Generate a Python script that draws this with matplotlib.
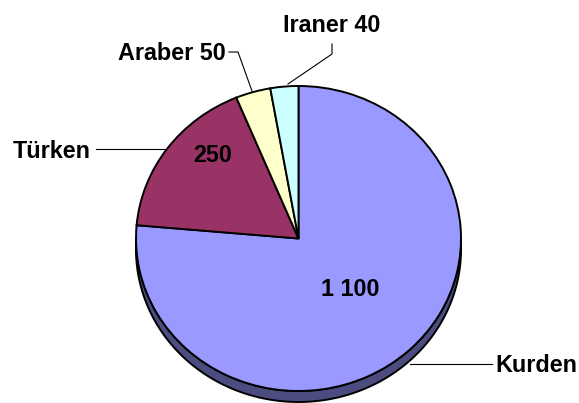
import numpy as np
import matplotlib
matplotlib.use('Agg')
import matplotlib.pyplot as plt
from matplotlib.patches import Polygon

labels = ['Kurden', 'Türken', 'Araber', 'Iraner']
values = [1100, 250, 50, 40]
colors = ['#9999FF', '#993366', '#FFFFCC', '#CCFFFF']
side_color = '#4C4C80'

W, H = 579, 403
cx, cy = 298.5, 238.5      # pie centre in pixels (from top)
rx, ry = 162.5, 152.5      # ellipse radii in pixels
depth = 11.0 / ry

def px(x, y):
    # pixel coords (top-left origin) -> data coords
    return (x - cx) / rx, (cy - y) / ry

plt.rcParams['font.family'] = ['Liberation Sans', 'DejaVu Sans']
fig = plt.figure(figsize=(W / 100, H / 100), dpi=100)
ax = fig.add_axes([0, 0, 1, 1])

# side of the 3d pie (only the lower front half is visible)
t = np.linspace(np.pi, 2 * np.pi, 200)
top = np.column_stack([np.cos(t), np.sin(t)])
bot = np.column_stack([np.cos(t[::-1]), np.sin(t[::-1]) - depth])
ax.add_patch(Polygon(np.vstack([top, bot]), closed=True, facecolor=side_color,
                     edgecolor='black', linewidth=1.4, zorder=1))

wedges, _ = ax.pie(values, colors=colors, startangle=90, counterclock=False,
                   wedgeprops=dict(edgecolor='black', linewidth=1.4))
for w in wedges:
    w.set_zorder(2)

ax.set_aspect('auto')
ax.set_xlim(-cx / rx, (W - cx) / rx)
ax.set_ylim(-(H - cy) / ry, cy / ry)
ax.axis('off')

fs = 16.8
tk = dict(fontsize=fs, fontweight='bold', color='black', zorder=5, va='baseline')

# value labels inside
ax.text(*px(213, 162.5), '250', ha='center', **tk)
ax.text(*px(350, 296.5), '1 100', ha='center', **tk)

# outside labels
ax.text(*px(226, 60.5), 'Araber 50', ha='right', **tk)
ax.text(*px(332, 32.5), 'Iraner 40', ha='center', **tk)
ax.text(*px(91, 157.5), 'Türken', ha='right', **tk)
ax.text(*px(495, 372.5), 'Kurden', ha='left', **tk)

# leader lines
leaders = [
    [(229, 52), (238, 52), (252, 91)],
    [(332, 44), (332, 54), (288, 84)],
    [(96, 149), (166, 149)],
    [(410, 364), (492, 364)],
]
for pts in leaders:
    xy = np.array([px(x, y) for x, y in pts])
    ax.plot(xy[:, 0], xy[:, 1], color='black', linewidth=0.8, zorder=0)

plt.savefig('out.png', dpi=100)
